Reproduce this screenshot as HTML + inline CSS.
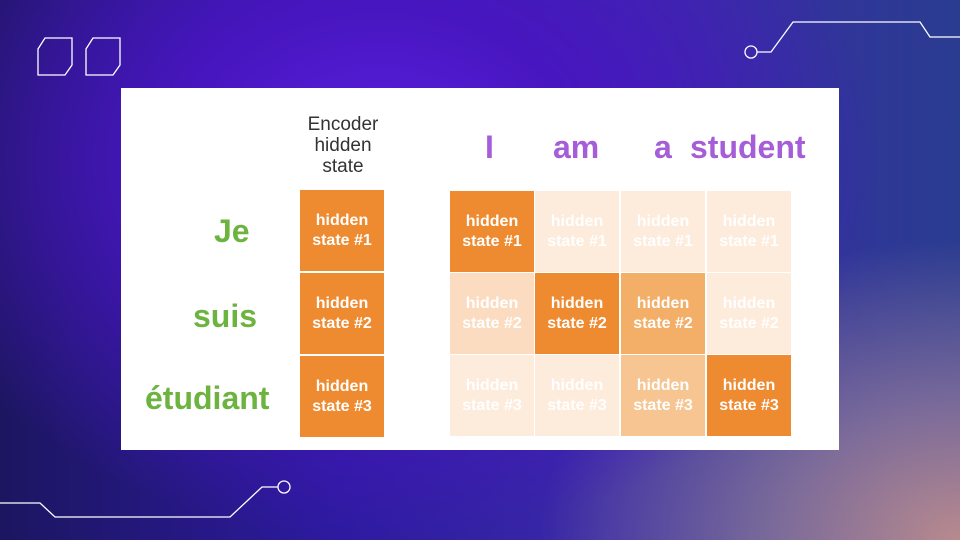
<!DOCTYPE html>
<html><head><meta charset="utf-8"><style>
*{margin:0;padding:0;box-sizing:border-box}
body{width:960px;height:540px;overflow:hidden;position:relative;font-family:"Liberation Sans",Arial,sans-serif;
background:radial-gradient(ellipse 500px 380px at 380px 160px,#5a1fe0 0%,#4816c0 40%,rgba(40,20,120,0) 100%),
radial-gradient(ellipse 420px 300px at 960px 540px,#b88a8e 0%,#7a6a9a 45%,rgba(60,60,130,0) 100%),
linear-gradient(90deg,#1c1660 0%,#2d1aa0 35%,#3a2aa8 65%,#2a3c90 100%)}
.panel{position:absolute;left:121px;top:88px;width:718px;height:362px;background:#fff}
.c{position:absolute;width:84px;height:81px;color:#fff;font-weight:bold;font-size:16px;line-height:20px;text-align:center;padding-top:21px}
.lbl{position:absolute;font-weight:bold;color:#6db33f;font-size:32px}
.w{position:absolute;font-weight:bold;color:#a55ed8;font-size:32px;top:129px}
</style></head><body>
<svg width="960" height="540" style="position:absolute;left:0;top:0">
<g fill="none" stroke="#fff" stroke-width="1.3">
<polygon points="45,38 72,38 72,65 65,75 38,75 38,49"/>
<polygon points="93,38 120,38 120,65 113,75 86,75 86,49"/>
<circle cx="751" cy="52" r="6"/>
<polyline points="757,52 771,52 793,22 920,22 930,37 960,37"/>
<polyline points="0,503 40,503 55,517 230,517 262,487 278,487"/>
<circle cx="284" cy="487" r="6"/>
</g></svg>
<div class="panel"></div>
<div style="position:absolute;left:298px;top:114px;width:90px;text-align:center;font-size:19px;line-height:21px;color:#333">Encoder<br>hidden<br>state</div>
<div class="lbl" style="left:214px;top:213px">Je</div>
<div class="lbl" style="left:193px;top:298px">suis</div>
<div class="lbl" style="left:145px;top:380px">étudiant</div>
<div class="w" style="left:485px">I</div>
<div class="w" style="left:553px">am</div>
<div class="w" style="left:654px">a</div>
<div class="w" style="left:690px">student</div>
<div class="c" style="left:300px;top:190px;background:#ee8a2f">hidden<br>state #1</div>
<div class="c" style="left:300px;top:273px;background:#ee8a2f">hidden<br>state #2</div>
<div class="c" style="left:300px;top:356px;background:#ee8a2f">hidden<br>state #3</div>

<div class="c" style="left:450px;top:191px;background:#ee8a2f">hidden<br>state #1</div>
<div class="c" style="left:535px;top:191px;background:#fdebdb">hidden<br>state #1</div>
<div class="c" style="left:621px;top:191px;background:#fdebdb">hidden<br>state #1</div>
<div class="c" style="left:707px;top:191px;background:#fdebdb">hidden<br>state #1</div>

<div class="c" style="left:450px;top:273px;background:#fbdcc0">hidden<br>state #2</div>
<div class="c" style="left:535px;top:273px;background:#ee8a2f">hidden<br>state #2</div>
<div class="c" style="left:621px;top:273px;background:#f3ae68">hidden<br>state #2</div>
<div class="c" style="left:707px;top:273px;background:#fdebdb">hidden<br>state #2</div>

<div class="c" style="left:450px;top:355px;background:#fdebdb">hidden<br>state #3</div>
<div class="c" style="left:535px;top:355px;background:#fdebdb">hidden<br>state #3</div>
<div class="c" style="left:621px;top:355px;background:#f6c592">hidden<br>state #3</div>
<div class="c" style="left:707px;top:355px;background:#ee8a2f">hidden<br>state #3</div>
</body></html>
